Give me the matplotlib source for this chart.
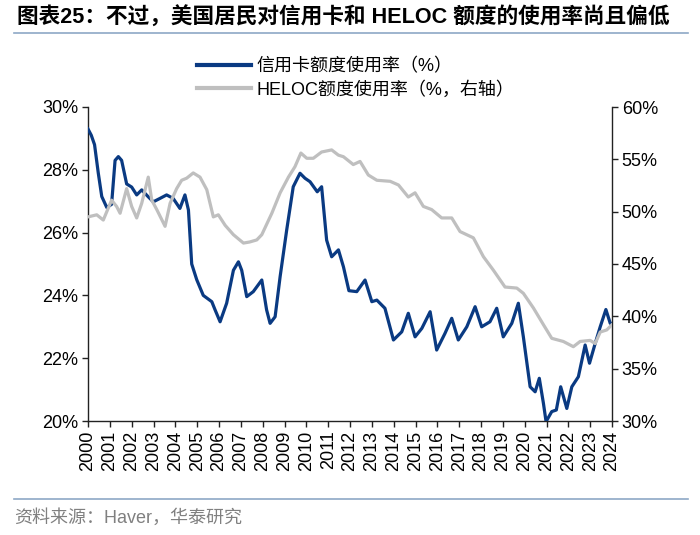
import matplotlib
matplotlib.use("Agg")
import matplotlib.pyplot as plt
from matplotlib.lines import Line2D

plt.rcParams['font.family'] = ['Liberation Sans', 'Noto Sans CJK SC', 'DejaVu Sans']

# ---------------- data ----------------
cc_dates = [2000.00, 2000.15, 2000.30, 2000.47, 2000.63, 2000.86, 2001.08, 2001.24, 2001.39, 2001.54,
            2001.77, 2002.00, 2002.23, 2002.46, 2002.76, 2002.99, 2003.30, 2003.60, 2003.90, 2004.21,
            2004.44, 2004.60, 2004.75, 2004.98, 2005.28, 2005.67, 2005.82, 2006.05, 2006.35, 2006.66,
            2006.89, 2007.04, 2007.27, 2007.57, 2007.96, 2008.18, 2008.34, 2008.57, 2008.80, 2009.10,
            2009.40, 2009.71, 2009.94, 2010.17, 2010.50, 2010.70, 2010.93, 2011.16, 2011.47, 2011.70,
            2011.95, 2012.31, 2012.69, 2013.00, 2013.23, 2013.60, 2013.99, 2014.37, 2014.67, 2014.98,
            2015.29, 2015.67, 2015.97, 2016.35, 2016.66, 2016.96, 2017.35, 2017.73, 2018.03, 2018.41,
            2018.72, 2019.02, 2019.41, 2019.71, 2019.94, 2020.25, 2020.48, 2020.67, 2020.86, 2020.98,
            2021.24, 2021.45, 2021.65, 2021.93, 2022.16, 2022.46, 2022.77, 2022.97, 2023.23, 2023.46,
            2023.72, 2023.92, 2024.00]
cc_vals = [29.3, 29.1, 28.8, 27.9, 27.15, 26.8, 26.9, 28.3, 28.42, 28.3,
           27.55, 27.45, 27.2, 27.36, 27.14, 26.98, 27.09, 27.2, 27.09, 26.77,
           27.2, 26.72, 25.0, 24.5, 24.0, 23.8, 23.54, 23.16, 23.75, 24.8,
           25.07, 24.8, 23.96, 24.12, 24.49, 23.54, 23.11, 23.32, 24.6, 26.08,
           27.46, 27.89, 27.73, 27.62, 27.3, 27.46, 25.76, 25.23, 25.45, 24.91,
           24.15, 24.12, 24.49, 23.8, 23.85, 23.59, 22.58, 22.84, 23.43, 22.68,
           22.95, 23.48, 22.26, 22.79, 23.27, 22.58, 23.0, 23.64, 23.0, 23.16,
           23.59, 22.68, 23.11, 23.75, 22.68, 21.09, 20.93, 21.36, 20.56, 19.98,
           20.3, 20.35, 21.09, 20.4, 21.09, 21.41, 22.42, 21.84, 22.47, 23.0,
           23.55, 23.11, 23.1]

heloc_dates = [2000.00, 2000.40, 2000.70, 2001.08, 2001.31, 2001.47, 2001.77, 2002.00, 2002.23, 2002.46,
               2002.76, 2002.92, 2003.15, 2003.53, 2003.76, 2004.06, 2004.29, 2004.52, 2004.82, 2005.13,
               2005.44, 2005.74, 2005.97, 2006.28, 2006.66, 2007.12, 2007.40, 2007.73, 2007.96, 2008.42,
               2008.80, 2009.18, 2009.48, 2009.75, 2010.02, 2010.32, 2010.70, 2011.16, 2011.47, 2011.70,
               2012.15, 2012.46, 2012.84, 2013.23, 2013.84, 2014.22, 2014.67, 2014.98, 2015.36, 2015.74,
               2016.20, 2016.66, 2017.04, 2017.65, 2018.11, 2018.57, 2019.10, 2019.64, 2019.94, 2020.40,
               2020.86, 2021.24, 2021.77, 2022.23, 2022.54, 2023.00, 2023.23, 2023.46, 2023.76, 2024.00]
heloc_vals = [49.5, 49.7, 49.2, 51.1, 50.5, 49.85, 52.2, 50.5, 49.4, 50.8,
              53.3, 51.1, 50.2, 48.6, 50.8, 52.2, 53.0, 53.2, 53.7, 53.3,
              52.1, 49.5, 49.7, 48.7, 47.8, 47.0, 47.1, 47.3, 47.8, 49.85,
              51.8, 53.3, 54.3, 55.6, 55.1, 55.1, 55.7, 55.9, 55.4, 55.25,
              54.5, 54.8, 53.5, 53.0, 52.9, 52.55, 51.4, 51.8, 50.5, 50.2,
              49.4, 49.4, 48.1, 47.5, 45.7, 44.4, 42.8, 42.7, 42.2, 40.8,
              39.2, 37.9, 37.6, 37.1, 37.6, 37.7, 37.4, 38.5, 38.7, 39.2]

years = list(range(2000, 2025))
left_ticks = [20, 22, 24, 26, 28, 30]
right_ticks = [30, 35, 40, 45, 50, 55, 60]

title = "图表25：不过，美国居民对信用卡和 HELOC 额度的使用率尚且偏低"
label_cc = "信用卡额度使用率（%）"
label_heloc = "HELOC额度使用率（%，右轴）"
source = "资料来源：Haver，华泰研究"

BLUE = '#0A3A82'
GRAY = '#BFBFBF'

# ---------------- figure ----------------
fig = plt.figure(figsize=(7.0, 5.35), dpi=100)
ax = fig.add_axes([88/700, 1-421/535, (612-88)/700, (421-107)/535])
ax2 = ax.twinx()

ax.plot(cc_dates, cc_vals, color=BLUE, lw=2.3, solid_joinstyle='round', zorder=3)
ax2.plot(heloc_dates, heloc_vals, color=GRAY, lw=2.3, solid_joinstyle='round', zorder=3)

ax.set_xlim(2000, 2024)
ax.set_ylim(20, 30)
ax2.set_ylim(30, 60)
ax.set_xticks(years)
ax.set_xticklabels([str(y) for y in years], rotation=90)
ax.set_yticks(left_ticks)
ax.set_yticklabels([f"{v}%" for v in left_ticks])
ax2.set_yticks(right_ticks)
ax2.set_yticklabels([f"{v}%" for v in right_ticks])

for a in (ax, ax2):
    a.spines['top'].set_visible(False)
    for s in ('left', 'right', 'bottom'):
        a.spines[s].set_color('#222222')
        a.spines[s].set_linewidth(1.0)
    a.tick_params(axis='both', direction='out', length=4, width=1.0, color='#222222',
                  labelsize=13, pad=3)
ax.spines['right'].set_visible(False)
ax2.spines['left'].set_visible(False)
ax2.spines['bottom'].set_visible(False)

# legend
handles = [Line2D([], [], color=BLUE, lw=3), Line2D([], [], color=GRAY, lw=3)]
leg = fig.legend(handles, [label_cc, label_heloc], loc='upper left',
                 bbox_to_anchor=(188/700, 1-49/535), frameon=False,
                 prop={'family': ['Liberation Sans', 'Noto Sans CJK SC'], 'size': 13},
                 handlelength=3.0, handletextpad=0.3, labelspacing=0.32, borderpad=0)

# title
fig.text(17/700, 1-18/535, title, fontsize=15.6, fontweight='bold', va='center', ha='left',
         family=['Liberation Sans', 'Noto Sans CJK SC'])
fig.add_artist(Line2D([14/700, 688/700], [1-33/535, 1-33/535], color='#8DA8C6', lw=1.2))

# footer
fig.add_artist(Line2D([14/700, 688/700], [1-499/535, 1-499/535], color='#8DA8C6', lw=1.2))
fig.text(14/700, 1-518/535, source, fontsize=13, color='#808080', va='center', ha='left',
         family=['Liberation Sans', 'Noto Sans CJK SC'])

fig.savefig('out.png', dpi=100)
